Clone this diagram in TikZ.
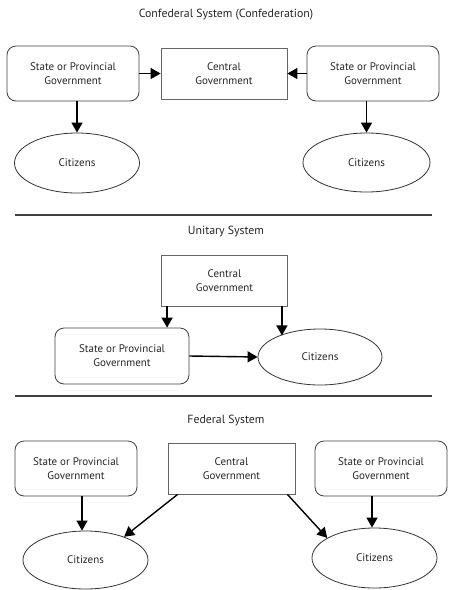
\documentclass[tikz,border=0pt]{standalone}
\usepackage{fontspec}
\setmainfont{PT Sans}
\usetikzlibrary{arrows.meta,shapes.geometric,calc}
\begin{document}
\begin{tikzpicture}[x=1pt,y=-1pt,
  every node/.style={font=\fontsize{11}{14}\selectfont, text=black!85, align=center},
  title/.style={font=\fontsize{11.8}{14}\selectfont},
  statebox/.style={draw=black!75, line width=0.8pt, rounded corners=9pt, minimum width=132pt, minimum height=55pt, inner sep=0pt},
  centralbox/.style={draw=black!60, line width=0.8pt, minimum width=126pt, minimum height=51pt, inner sep=0pt},
  citz/.style={draw=black!80, line width=0.8pt, ellipse, minimum width=125pt, minimum height=60pt, inner sep=0pt},
  arr/.style={line width=1.4pt, -{Triangle[length=10pt,width=11pt]}},
  sep/.style={line width=1.2pt, draw=black!75}]
\useasboundingbox (0,0) rectangle (448,590);
% Confederal
\node[title] (t1) at (226,15) {Confederal System (Confederation)};
\node[statebox] (cls) at (73,73.5) {State or Provincial\\Government};
\node[centralbox] (ccg) at (224,73.5) {Central\\Government};
\node[statebox] (crs) at (373,73.5) {State or Provincial\\Government};
\node[citz] (clc) at (77,163) {Citizens};
\node[citz, minimum width=127pt, minimum height=59pt] (crc) at (366.5,162.5) {Citizens};
\draw[arr] (cls.east) -- (ccg.west);
\draw[arr] (crs.west) -- (ccg.east);
\draw[arr] (cls.south -| clc.north) -- (clc.north);
\draw[arr] (crs.south -| crc.north) -- (crc.north);
% separator 1
\coordinate (s1a) at (15,215);
\coordinate (s1b) at (432,215);
\draw[sep] (s1a) -- (s1b);
% Unitary
\node[title] (t2) at (226,232) {Unitary System};
\node[centralbox] (ucg) at (224.5,280.5) {Central\\Government};
\node[statebox, minimum width=134pt, minimum height=56pt] (us) at (122,356) {State or Provincial\\Government};
\node[citz, minimum width=124pt, minimum height=56pt] (uc) at (320,357) {Citizens};
\draw[arr] ([xshift=6pt]ucg.south west) -- ([xshift=6pt]ucg.south west |- us.north);
\draw[arr] ([xshift=-6pt]ucg.south east) -- ([xshift=-6pt]ucg.south east |- uc.152);
\draw[arr] (us.east) -- (uc.west);
% separator 2
\coordinate (s2a) at (15,396);
\coordinate (s2b) at (432,396);
\draw[sep] (s2a) -- (s2b);
% Federal
\node[title] (t3) at (226,421) {Federal System};
\node[statebox, minimum width=122pt] (fls) at (76,468.5) {State or Provincial\\Government};
\node[centralbox, minimum width=127pt] (fcg) at (231.5,468.5) {Central\\Government};
\node[statebox] (frs) at (381,468.5) {State or Provincial\\Government};
\node[citz, minimum height=58pt] (flc) at (85.5,560) {Citizens};
\node[citz] (frc) at (374.5,558) {Citizens};
\draw[arr] (fls.south -| 82,0) -- (flc.north -| 82,0);
\draw[arr] (frs.south -| 372,0) -- (frc.north -| 372,0);
\draw[arr] ([xshift=10pt]fcg.south west) -- (flc.31);
\draw[arr] ([xshift=-8pt]fcg.south east) -- (frc.157);
\end{tikzpicture}
\end{document}
